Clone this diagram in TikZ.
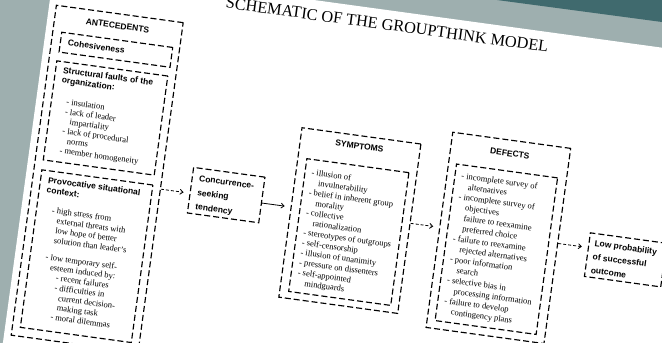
\documentclass[tikz,border=0pt]{standalone}
\usepackage{fontspec}
\setmainfont{Liberation Serif}
\newfontfamily\hsans{Liberation Sans}
\usetikzlibrary{arrows.meta,calc}
\definecolor{bggrey}{RGB}{158,175,175}
\definecolor{darkteal}{RGB}{64,106,110}
\newcommand\hdfont{\hsans\bfseries\fontsize{8.5}{10}\selectfont}
\newcommand\hdfontwide{\hsans\bfseries\fontsize{8.5}{14.3}\selectfont}
\newcommand\lowfont{\hsans\bfseries\fontsize{8.5}{13.5}\selectfont}
\newcommand\lsfont{\fontsize{8.5}{9.8}\selectfont}
\newcommand\lsfontb{\fontsize{8.5}{10.1}\selectfont}
\newcommand\lsfontc{\fontsize{8.5}{10.5}\selectfont}
\newcommand\cindent{\hspace*{6pt}}
\newcommand\cindentb{\hspace*{8pt}}
\tikzset{
  dbox/.style={draw, line width=1.15pt, dash pattern=on 6pt off 3pt, inner sep=0pt, anchor=north west},
  hd/.style={font=\hdfont, inner sep=0pt},
  lst/.style={align=left, anchor=north west, inner sep=0pt},
  arrsolid/.style={line width=0.8pt, -{Straight Barb[length=3pt,width=5pt]}, shorten >=6pt},
  arr/.style={arrsolid, dash pattern=on 3pt off 2pt}
}
\begin{document}
\begin{tikzpicture}[x=1pt,y=-1pt]
\useasboundingbox (0,0) rectangle (662,343);
\clip (0,0) rectangle (662,343);
\fill[bggrey] (0,0) rectangle (662,343);
\fill[darkteal] (497,0) -- (662,0) -- (662,22) -- cycle;
\begin{scope}[rotate=-7.8, transform shape]
\fill[white] (49.4,-42.6) rectangle (1000,600);
\node[font=\fontsize{16.3}{18}\selectfont, inner sep=0pt] (title) at (387,-28) {SCHEMATIC OF THE GROUPTHINK MODEL};
% antecedents
\node[dbox, minimum width=128pt, minimum height=333pt] (ante) at (56,-3) {};
\node[hd] (antehd) at (120,9.5) {ANTECEDENTS};
\node[dbox, minimum width=112pt, minimum height=20pt] (coh) at (65,23) {};
\node[hd, anchor=west] (cohtxt) at (73,33) {Cohesiveness};
\node[dbox, minimum width=112pt, minimum height=100pt] (struct) at (64,52) {};
\node[hd, lst] (structhd) at (72,57.5) {Structural faults of the\\organization:};
\node[lst, font=\lsfont] (structlist) at (79.5,88.7) {- insulation\\- lack of leader\\\cindent impartiality\\- lack of procedural\\\cindent norms\\- member homogeneity};
\node[dbox, minimum width=112pt, minimum height=159pt] (prov) at (64,162) {};
\node[hd, lst] (provhd) at (72,168.5) {Provocative situational\\context:};
\node[lst, font=\lsfont] (provlist) at (80,198) {- high stress from\\\cindent external threats with\\\cindent low hope of better\\\cindent solution than leader's\\[7.8pt]- low temporary self-\\\cindent esteem induced by:\\\hspace*{13pt}- recent failures\\\hspace*{13pt}- difficulties in\\\hspace*{18pt}current decision-\\\hspace*{18pt}making task\\\hspace*{13pt}- moral dilemmas};
% concurrence
\node[dbox, minimum width=72pt, minimum height=46pt] (conc) at (214,139) {};
\node[lst, font=\hdfontwide] (conctxt) at (221.5,146.4) {Concurrence-\\seeking\\tendency};
% symptoms
\node[dbox, minimum width=120pt, minimum height=171pt] (symp) at (316,85) {};
\node[hd] (symphd) at (376,96) {SYMPTOMS};
\node[dbox, minimum width=103pt, minimum height=134pt] (sympin) at (325,115) {};
\node[lst, font=\lsfontb] (symplist) at (332,125.2) {- illusion of\\\cindentb invulnerability\\- belief in inherent group\\\cindentb morality\\- collective\\\cindentb rationalization\\- stereotypes of outgroups\\- self-censorship\\- illusion of unanimity\\- pressure on dissenters\\- self-appointed\\\cindentb mindguards};
% defects
\node[dbox, minimum width=119pt, minimum height=197pt] (def) at (466,69) {};
\node[hd] (defhd) at (526,83) {DEFECTS};
\node[dbox, minimum width=102pt, minimum height=158pt] (defin) at (474,100) {};
\node[lst, font=\lsfontc] (deflist) at (481,108.2) {- incomplete survey of\\\cindentb alternatives\\- incomplete survey of\\\cindentb objectives\\\cindentb failure to reexamine\\\cindentb preferred choice\\- failure to reexamine\\\cindentb rejected alternatives\\- poor information\\\cindentb search\\- selective bias in\\\cindentb processing information\\- failure to develop\\\cindentb contingency plans};
% outcome
\node[dbox, minimum width=77pt, minimum height=44pt] (low) at (616,150) {};
\node[lst, font=\lowfont] (lowtxt) at (622,157) {Low probability\\of successful\\outcome};
% arrows
\draw[arr] ($(ante.north east)!0.5045!(ante.south east)$) -- ($(conc.north west)!0.565!(conc.south west)$);
\draw[arrsolid] ($(conc.north east)!0.565!(conc.south east)$) -- ($(symp.north west)!0.468!(symp.south west)$);
\draw[arr] ($(symp.north east)!0.468!(symp.south east)$) -- ($(def.north west)!0.487!(def.south west)$);
\draw[arr] ($(def.north east)!0.487!(def.south east)$) -- ($(low.north west)!0.341!(low.south west)$);
\end{scope}
\end{tikzpicture}
\end{document}
